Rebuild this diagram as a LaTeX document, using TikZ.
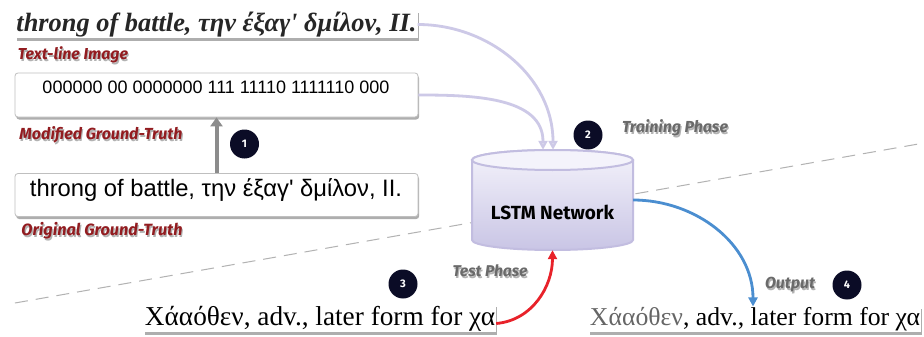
\documentclass[tikz,border=0pt]{standalone}
\usepackage{fontspec}
\setmainfont{Liberation Serif}
\setsansfont{Liberation Sans}
\newfontfamily\fira{Fira Sans}
\usetikzlibrary{arrows.meta,shadows}
\definecolor{lblred}{HTML}{921C20}
\definecolor{lblgray}{HTML}{6A6A6A}
\definecolor{lav}{HTML}{CDC9E7}
\definecolor{lavdark}{HTML}{C2BDE0}
\definecolor{cyltop}{HTML}{F4F3FB}
\definecolor{cylbot}{HTML}{C9C5E5}
\definecolor{navy}{HTML}{0B0C26}
\definecolor{redarrow}{HTML}{E8222A}
\definecolor{bluearrow}{HTML}{4B8ED0}
\definecolor{grayarrow}{HTML}{8C8C8C}
\newcommand\shlabel[5]{%
  \node[lbl, text=black, opacity=0.3] at ([shift={(1.2pt,-2pt)}]#2) {\resizebox{#5}{!}{#4}};
  \node[lbl, text=#3] (#1) at (#2) {\resizebox{#5}{!}{#4}};}
\begin{document}
\begin{tikzpicture}[x=1pt,y=-1pt,
  lbl/.style={font=\fira\bfseries\itshape\fontsize{14}{14}\selectfont, inner sep=0},
  shad/.style={drop shadow={shadow xshift=1.2pt,shadow yshift=-2.5pt,opacity=0.45,fill=black!70}},
  imgbox/.style={fill=white, inner sep=1pt, shad},
  gtbox/.style={fill=white, draw=black!25, line width=0.8pt, rounded corners=3pt,
                minimum width=403pt, inner sep=0, shad},
  numc/.style={circle, fill=navy, text=white, minimum size=29pt, inner sep=0,
               font=\fira\bfseries\fontsize{11}{11}\selectfont},
  dashline/.style={draw=black!30, line width=1pt, dash pattern=on 13pt off 8pt},
  lavline/.style={draw=lav, line width=2.8pt, -{Triangle[length=9pt,width=9pt,fill=lav!60]}},
]
\useasboundingbox (0,0) rectangle (924,337);
\fill[white] (0,0) rectangle (924,337);

% dashed separator
\coordinate (d1) at (15,303);
\coordinate (d2) at (924,143);
\draw[dashline] (d1) -- (d2);

% top text-line image
\node[imgbox] (img) at (216.5,24.5)
  {\resizebox{400pt}{!}{\color{black!85}\bfseries\itshape throng of battle, την έξαγ\textquotesingle{} δμίλον, II.}};
\shlabel{limg}{73,55}{lblred}{Text-line Image}{110pt}

% modified ground truth
\node[gtbox, minimum height=44pt] (mgt) at (216.5,95) {};
\node[inner sep=0, font=\sffamily\fontsize{18}{18}\selectfont] (mgttext) at (216,87)
  {000000 00 0000000 111 11110 1111110 000};
\shlabel{lmgt}{101,135}{lblred}{Modified Ground-Truth}{163pt}

% original ground truth
\node[gtbox, minimum height=43pt] (ogt) at (216.5,195) {};
\node[inner sep=0] (ogttext) at (216,190)
  {\resizebox{372pt}{!}{\sffamily throng of battle, την έξαγ\textquotesingle{} δμίλον, II.}};
\shlabel{logt}{102,231}{lblred}{Original Ground-Truth}{161pt}

\draw[grayarrow, line width=4pt, -{Triangle[length=9pt,width=12pt]}] (ogt.north) -- (mgt.south);
\node[numc] (n1) at (244.5,144) {1};

% LSTM cylinder
\path[top color=cyltop, bottom color=cylbot, draw=lavdark, line width=2pt]
  (472,160) -- (472,240)
  arc[start angle=180, end angle=360, x radius=80.5pt, y radius=10pt]
  -- (633,160)
  arc[start angle=0, end angle=180, x radius=80.5pt, y radius=10pt] -- cycle;
\draw[lavdark, line width=2pt, fill=cyltop]
  (552.5,160) ellipse[x radius=80.5pt, y radius=10pt];
\node[minimum width=161pt, minimum height=100pt, inner sep=0] (lstm) at (552.5,200) {};
\node[font=\fira\bfseries\fontsize{19}{19}\selectfont, inner sep=0] (lstmtext) at (552.5,212) {LSTM Network};

\node[numc] (n2) at (588,135) {2};
\shlabel{ltrain}{675,128}{lblgray}{Training Phase}{106pt}

% training arrows
\draw[lavline] (img.east) to[out=0, in=90] ([xshift=0.5pt]lstm.north);
\draw[lavline] (mgt.east) to[out=0, in=90] ([xshift=-9.5pt]lstm.north);

% test phase
\node[imgbox] (test) at (320,318.5)
  {\resizebox{350pt}{!}{Χάαόθεν, adv., later form for χα}};
\node[numc] (n3) at (403,284) {3};
\shlabel{ltest}{490,271}{lblgray}{Test Phase}{75pt}
\draw[redarrow, line width=2.8pt, -{Triangle[length=9pt,width=9pt]}]
  ([yshift=-5pt]test.east) to[out=5, in=-90] (lstm.south);

% output
\node[imgbox] (out) at (755,319.5)
  {\resizebox{330pt}{!}{\textcolor{black!60}{Χάαόθεν}, adv., later form for χα}};
\shlabel{lout}{790,285}{lblgray}{Output}{50pt}
\node[numc] (n4) at (847,285) {4};
\draw[bluearrow, line width=2.8pt, -{Triangle[length=9pt,width=9pt]}]
  (lstm.east) to[out=0, in=90] ([xshift=-2pt]out.north);
\end{tikzpicture}
\end{document}
